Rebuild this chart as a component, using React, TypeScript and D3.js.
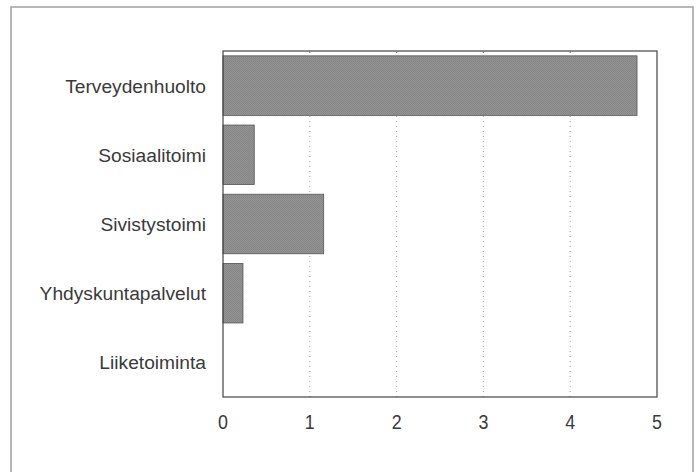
import { useEffect, useRef } from "react";
import * as d3 from "d3";

const categories = ["Terveydenhuolto", "Sosiaalitoimi", "Sivistystoimi", "Yhdyskuntapalvelut", "Liiketoiminta"];
const values = [4.77, 0.36, 1.16, 0.23, 0];
const xTicks = [0, 1, 2, 3, 4, 5];

const WIDTH = 698;
const HEIGHT = 472;
const FONT = "'Liberation Sans', Arial, sans-serif";

export default function App() {
  const svgRef = useRef<SVGSVGElement>(null);

  useEffect(() => {
    if (!svgRef.current) return;
    const svg = d3.select(svgRef.current);
    svg.selectAll("*").remove();

    const margin = { top: 51, right: 41, bottom: 75, left: 223 };
    const chartWidth = WIDTH - margin.left - margin.right;
    const chartHeight = HEIGHT - margin.top - margin.bottom;

    // fine screen texture like the printed bars
    const defs = svg.append("defs");
    const pattern = defs
      .append("pattern")
      .attr("id", "dots")
      .attr("width", 2)
      .attr("height", 2)
      .attr("patternUnits", "userSpaceOnUse");
    pattern.append("rect").attr("width", 2).attr("height", 2).attr("fill", "#939393");
    pattern.append("rect").attr("width", 1).attr("height", 1).attr("fill", "#848484");
    pattern.append("rect").attr("x", 1).attr("y", 1).attr("width", 1).attr("height", 1).attr("fill", "#888888");

    svg
      .append("rect")
      .attr("x", 11)
      .attr("y", 7)
      .attr("width", 682)
      .attr("height", 480)
      .attr("fill", "white")
      .attr("stroke", "#a0a0a0")
      .attr("stroke-width", 1.5);

    const x = d3.scaleLinear().domain([0, 5]).range([0, chartWidth]);
    const y = d3.scaleBand().domain(categories).range([0, chartHeight]).paddingInner(0.14).paddingOuter(0.07);

    const root = svg.append("g").attr("transform", `translate(${margin.left},${margin.top})`);

    // dotted grid
    root
      .selectAll(".grid")
      .data(xTicks.filter((t) => t > 0 && t < 5))
      .enter()
      .append("line")
      .attr("x1", (d) => x(d))
      .attr("x2", (d) => x(d))
      .attr("y1", 0)
      .attr("y2", chartHeight)
      .attr("stroke", "#a0a0a0")
      .attr("stroke-width", 1)
      .attr("stroke-dasharray", "1 4");

    root
      .selectAll(".bar")
      .data(categories.map((c, i) => ({ c, v: values[i] })).filter((d) => d.v > 0))
      .enter()
      .append("rect")
      .attr("x", 0)
      .attr("y", (d) => y(d.c) ?? 0)
      .attr("width", (d) => x(d.v))
      .attr("height", y.bandwidth())
      .attr("fill", "url(#dots)")
      .attr("stroke", "#555")
      .attr("stroke-width", 0.8);

    root
      .append("rect")
      .attr("x", 0)
      .attr("y", 0)
      .attr("width", chartWidth)
      .attr("height", chartHeight)
      .attr("fill", "none")
      .attr("stroke", "#444")
      .attr("stroke-width", 1.2);

    // small tick marks on top edge
    root
      .selectAll(".topTick")
      .data(xTicks.filter((t) => t > 0 && t < 5))
      .enter()
      .append("line")
      .attr("x1", (d) => x(d))
      .attr("x2", (d) => x(d))
      .attr("y1", 0)
      .attr("y2", 2)
      .attr("stroke", "#777");

    root
      .selectAll(".xLabel")
      .data(xTicks)
      .enter()
      .append("text")
      .attr("transform", (d) => `translate(${x(d)},${chartHeight + 32}) scale(0.85,1)`)
      .attr("text-anchor", "middle")
      .attr("font-family", FONT)
      .attr("font-size", 21)
      .attr("fill", "#3a3a3a")
      .text((d) => String(d));

    root
      .selectAll(".yLabel")
      .data(categories)
      .enter()
      .append("text")
      .attr("x", -17)
      .attr("y", (d) => (y(d) ?? 0) + y.bandwidth() / 2)
      .attr("dy", "0.36em")
      .attr("text-anchor", "end")
      .attr("font-family", FONT)
      .attr("font-size", 19.2)
      .attr("fill", "#3a3a3a")
      .text((d) => d);
  }, []);

  return (
    <svg
      ref={svgRef}
      width={WIDTH}
      height={HEIGHT}
      style={{ position: "absolute", left: 0, top: 0, background: "white" }}
    />
  );
}
